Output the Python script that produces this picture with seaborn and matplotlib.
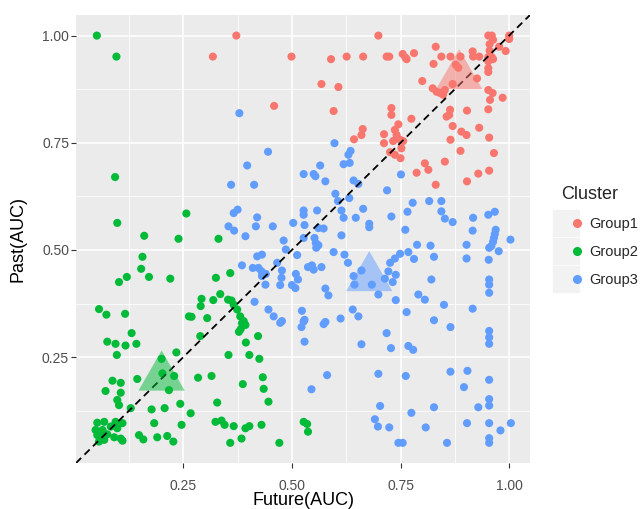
import pandas as pd
import matplotlib
matplotlib.use('Agg')
import matplotlib.pyplot as plt
import seaborn as sns
from matplotlib.lines import Line2D
from matplotlib.legend_handler import HandlerTuple
from matplotlib.markers import MarkerStyle
from matplotlib.path import Path

# values
g1_x = [0.318, 0.372, 0.499, 0.590, 0.626, 0.664, 0.568, 0.607, 0.459, 0.596,
        0.663, 0.660, 0.643, 0.699, 0.718, 0.724, 0.755, 0.761, 0.764, 0.781,
        0.831, 0.844, 0.865, 0.826, 0.888, 0.916, 0.917, 0.931, 0.952, 0.960,
        0.963, 0.955, 0.955, 0.960, 0.952, 0.963, 0.952, 0.977, 0.992, 1.000,
        1.000, 0.877, 0.883, 0.926, 0.952, 0.952, 0.800, 0.824, 0.833, 0.841,
        0.848, 0.852, 0.870, 0.952, 0.962, 0.956, 0.985, 0.952, 0.903, 0.864,
        0.862, 0.856, 0.729, 0.729, 0.775, 0.745, 0.737, 0.741, 0.749, 0.756,
        0.712, 0.712, 0.733, 0.752, 0.726, 0.737, 0.750, 0.870, 0.890, 0.902,
        0.931, 0.865, 0.954, 0.888, 0.965, 0.852, 0.806, 0.787, 0.814, 0.831,
        0.903, 0.929, 0.954]
g1_y = [0.951, 1.000, 0.951, 0.945, 0.951, 0.951, 0.887, 0.880, 0.836, 0.824,
        0.782, 0.768, 0.758, 1.000, 0.951, 0.951, 0.957, 0.949, 0.945, 0.959,
        0.974, 0.951, 0.951, 0.934, 0.951, 0.963, 0.951, 0.951, 1.000, 1.000,
        0.990, 0.980, 0.965, 0.950, 0.950, 0.945, 0.940, 0.974, 0.964, 1.000,
        0.992, 0.932, 0.925, 0.900, 0.924, 0.915, 0.894, 0.877, 0.869, 0.866,
        0.862, 0.873, 0.887, 0.873, 0.866, 0.850, 0.855, 0.828, 0.825, 0.827,
        0.815, 0.811, 0.831, 0.815, 0.806, 0.793, 0.780, 0.768, 0.757, 0.754,
        0.770, 0.749, 0.754, 0.737, 0.728, 0.722, 0.714, 0.789, 0.776, 0.768,
        0.785, 0.757, 0.762, 0.731, 0.726, 0.706, 0.702, 0.680, 0.687, 0.652,
        0.660, 0.678, 0.685]

g2_x = [0.051, 0.096, 0.093, 0.098, 0.160, 0.257, 0.239, 0.331, 0.156, 0.153,
        0.171, 0.120, 0.102, 0.220, 0.325, 0.358, 0.292, 0.290, 0.319, 0.056,
        0.073, 0.116, 0.263, 0.269, 0.305, 0.335, 0.353, 0.361, 0.366, 0.374,
        0.381, 0.389, 0.385, 0.393, 0.378, 0.382, 0.422, 0.394, 0.354, 0.402,
        0.425, 0.387, 0.433, 0.435, 0.446, 0.328, 0.338, 0.345, 0.366, 0.393,
        0.402, 0.430, 0.324, 0.384, 0.358, 0.471, 0.527, 0.535, 0.537, 0.131,
        0.075, 0.094, 0.117, 0.142, 0.097, 0.234, 0.289, 0.200, 0.202, 0.229,
        0.217, 0.144, 0.284, 0.315, 0.087, 0.106, 0.071, 0.106, 0.098, 0.102,
        0.129, 0.177, 0.207, 0.243, 0.267, 0.183, 0.246,
        0.052, 0.068, 0.094, 0.110, 0.048, 0.064, 0.083, 0.098, 0.052, 0.064,
        0.075, 0.091, 0.106, 0.056, 0.068, 0.110, 0.148, 0.158, 0.190, 0.213,
        0.227]
g2_y = [1.000, 0.951, 0.670, 0.563, 0.533, 0.585, 0.526, 0.526, 0.484, 0.456,
        0.437, 0.437, 0.425, 0.433, 0.435, 0.446, 0.386, 0.369, 0.383, 0.362,
        0.349, 0.351, 0.345, 0.344, 0.341, 0.397, 0.384, 0.382, 0.372, 0.361,
        0.345, 0.334, 0.329, 0.325, 0.309, 0.315, 0.299, 0.284, 0.255, 0.255,
        0.246, 0.187, 0.203, 0.176, 0.146, 0.144, 0.102, 0.092, 0.089, 0.084,
        0.089, 0.092, 0.099, 0.060, 0.050, 0.050, 0.099, 0.094, 0.076, 0.306,
        0.286, 0.281, 0.277, 0.281, 0.255, 0.261, 0.299, 0.246, 0.212, 0.206,
        0.173, 0.199, 0.202, 0.206, 0.195, 0.190, 0.171, 0.167, 0.150, 0.138,
        0.131, 0.128, 0.131, 0.141, 0.119, 0.096, 0.092,
        0.097, 0.099, 0.099, 0.096, 0.080, 0.080, 0.088, 0.084, 0.068, 0.064,
        0.070, 0.063, 0.060, 0.053, 0.057, 0.055, 0.068, 0.058, 0.063, 0.066,
        0.053]

g3_x = [0.379, 0.598, 0.445, 0.397, 0.565, 0.635, 0.630, 0.619, 0.633,
        0.751, 0.719, 0.778, 0.766, 0.816, 0.844, 0.844, 0.852, 0.870, 0.729,
        0.761, 0.917, 0.916, 0.952, 0.967, 0.969, 0.967, 0.965, 0.963, 0.959,
        0.954, 1.003, 0.976, 0.788, 0.819, 0.902, 0.768, 0.749, 0.737, 0.726,
        0.781, 0.827, 0.902, 0.953, 0.722, 0.739, 0.714, 0.732, 0.821, 0.954,
        0.954, 0.954, 0.699, 0.791, 0.806, 0.739, 0.850, 0.916, 0.764, 0.827,
        0.865, 0.954, 0.954, 0.954, 0.718, 0.728, 0.768, 0.779, 0.699, 0.762,
        0.865, 0.904, 0.954, 0.896, 0.954, 0.954, 0.929, 0.703, 0.827, 0.775,
        0.691, 0.698, 0.724, 0.808, 0.903, 0.954, 1.004, 0.980, 0.954, 0.954,
        0.745, 0.755, 0.857,
        0.527, 0.550, 0.554, 0.577, 0.642, 0.653, 0.360, 0.413, 0.600, 0.606,
        0.632, 0.614, 0.619, 0.664, 0.647, 0.678, 0.678, 0.366, 0.375, 0.420,
        0.417, 0.354, 0.367, 0.393, 0.456, 0.527, 0.527, 0.529, 0.558, 0.503,
        0.561, 0.573, 0.481, 0.486, 0.527, 0.552, 0.555, 0.561, 0.556, 0.614,
        0.512, 0.596, 0.621, 0.629, 0.420, 0.431, 0.385, 0.410, 0.423, 0.430,
        0.431, 0.440, 0.466, 0.477, 0.476, 0.473, 0.439, 0.509, 0.514, 0.500,
        0.508, 0.537, 0.546, 0.550, 0.568, 0.577, 0.584, 0.642, 0.660, 0.644,
        0.684, 0.414, 0.446, 0.458, 0.523, 0.640, 0.653, 0.477, 0.529, 0.577,
        0.612, 0.473, 0.527, 0.522, 0.573, 0.529, 0.660, 0.581, 0.545]
g3_y = [0.819, 0.749, 0.729, 0.697, 0.697, 0.731, 0.722, 0.700, 0.703,
        0.676, 0.639, 0.610, 0.589, 0.614, 0.614, 0.590, 0.573, 0.565, 0.578,
        0.547, 0.575, 0.545, 0.582, 0.589, 0.547, 0.537, 0.528, 0.519, 0.509,
        0.505, 0.524, 0.497, 0.512, 0.510, 0.512, 0.495, 0.491, 0.480, 0.470,
        0.479, 0.484, 0.480, 0.477, 0.450, 0.442, 0.433, 0.425, 0.431, 0.431,
        0.419, 0.400, 0.396, 0.396, 0.384, 0.383, 0.372, 0.363, 0.355, 0.336,
        0.320, 0.311, 0.296, 0.281, 0.306, 0.271, 0.276, 0.267, 0.211, 0.206,
        0.216, 0.218, 0.197, 0.180, 0.152, 0.137, 0.133, 0.136, 0.133, 0.120,
        0.105, 0.088, 0.086, 0.086, 0.096, 0.096, 0.096, 0.079, 0.061, 0.050,
        0.050, 0.050, 0.050,
        0.677, 0.677, 0.672, 0.660, 0.662, 0.654, 0.652, 0.652, 0.631, 0.614,
        0.621, 0.592, 0.575, 0.596, 0.575, 0.561, 0.553, 0.586, 0.594, 0.576,
        0.555, 0.555, 0.545, 0.532, 0.555, 0.592, 0.582, 0.558, 0.592, 0.563,
        0.551, 0.550, 0.522, 0.501, 0.528, 0.528, 0.516, 0.511, 0.505, 0.534,
        0.488, 0.495, 0.489, 0.470, 0.485, 0.489, 0.464, 0.458, 0.458, 0.450,
        0.439, 0.444, 0.470, 0.452, 0.435, 0.418, 0.419, 0.444, 0.431, 0.418,
        0.411, 0.460, 0.464, 0.454, 0.460, 0.410, 0.394, 0.439, 0.452, 0.419,
        0.419, 0.379, 0.361, 0.345, 0.358, 0.361, 0.345, 0.334, 0.337, 0.332,
        0.340, 0.330, 0.333, 0.320, 0.327, 0.286, 0.280, 0.208, 0.175]

groups = ['Group1', 'Group2', 'Group3']
center_x = [0.885, 0.200, 0.678]
center_y = [0.906, 0.203, 0.435]
tick_vals = [0.25, 0.50, 0.75, 1.00]
tick_labels = ['0.25', '0.50', '0.75', '1.00']
minor_vals = [0.125, 0.375, 0.625, 0.875]

colors = ['#F8766D', '#00BA38', '#619CFF']

df = pd.DataFrame({
    'Future(AUC)': g1_x + g2_x + g3_x,
    'Past(AUC)': g1_y + g2_y + g3_y,
    'Cluster': ['Group1'] * len(g1_x) + ['Group2'] * len(g2_x) + ['Group3'] * len(g3_x),
})
centers = pd.DataFrame({'Future(AUC)': center_x, 'Past(AUC)': center_y, 'Cluster': groups})

sns.set_theme(style='darkgrid', rc={'axes.facecolor': '#EBEBEB', 'grid.color': 'white'})
plt.rcParams['font.family'] = ['Liberation Sans', 'DejaVu Sans']

fig = plt.figure(figsize=(6.42, 5.09), dpi=100)
ax = fig.add_axes([76 / 642, 46 / 509, 454 / 642, 448 / 509])

sns.scatterplot(data=df, x='Future(AUC)', y='Past(AUC)', hue='Cluster', hue_order=groups,
                palette=colors, s=34, linewidth=0, legend=False, ax=ax, zorder=3)

ax.axline((0, 0), slope=1, color='black', lw=1.3, dashes=(4, 2.6), zorder=4)

# equilateral triangle centred on its centroid, like R's pch 17
tri = MarkerStyle(Path([(0, 1), (-0.866, -0.5), (0.866, -0.5), (0, 1)], closed=True))
sns.scatterplot(data=centers, x='Future(AUC)', y='Past(AUC)', hue='Cluster', hue_order=groups,
                palette=colors, s=1480, marker=tri, alpha=0.5, linewidth=0, legend=False,
                ax=ax, zorder=5)

ax.set_xlim(0.003, 1.048)
ax.set_ylim(0.003, 1.048)
ax.set_xticks(tick_vals, tick_labels)
ax.set_yticks(tick_vals, tick_labels)
ax.set_xticks(minor_vals, minor=True)
ax.set_yticks(minor_vals, minor=True)
ax.grid(which='major', color='white', lw=1.1)
ax.grid(which='minor', color='white', lw=0.55)
ax.tick_params(which='major', direction='out', length=3.5, width=0.8, color='#333333',
               labelcolor='#4D4D4D', labelsize=10, bottom=True, left=True)
ax.tick_params(axis='x', pad=8)
ax.tick_params(axis='y', pad=1.5)
ax.tick_params(which='minor', length=0)
for sp in ax.spines.values():
    sp.set_visible(False)

ax.set_xlabel('Future(AUC)', fontsize=13, color='black')
ax.set_ylabel('Past(AUC)', fontsize=13, color='black')
ax.xaxis.set_label_coords(0.5, -0.083)
ax.xaxis.label.set_verticalalignment('center')
ax.yaxis.set_label_coords(-0.128, 0.5)
ax.yaxis.label.set_verticalalignment('center')

handles = []
for c in colors:
    box = Line2D([], [], marker='s', markersize=19, color='#F2F2F2', linestyle='none')
    dot = Line2D([], [], marker='o', markersize=5.5, color=c, linestyle='none')
    handles.append((box, dot))
leg = fig.legend(handles, groups, title='Cluster', loc='upper left',
                 bbox_to_anchor=(554 / 642, 1 - 179 / 509), frameon=False,
                 fontsize=10.5, title_fontsize=13, alignment='left',
                 handler_map={tuple: HandlerTuple(ndivide=None)},
                 handlelength=1.4, handletextpad=0.55, labelspacing=0.95, borderpad=0)

fig.savefig('out.png', dpi=100)
